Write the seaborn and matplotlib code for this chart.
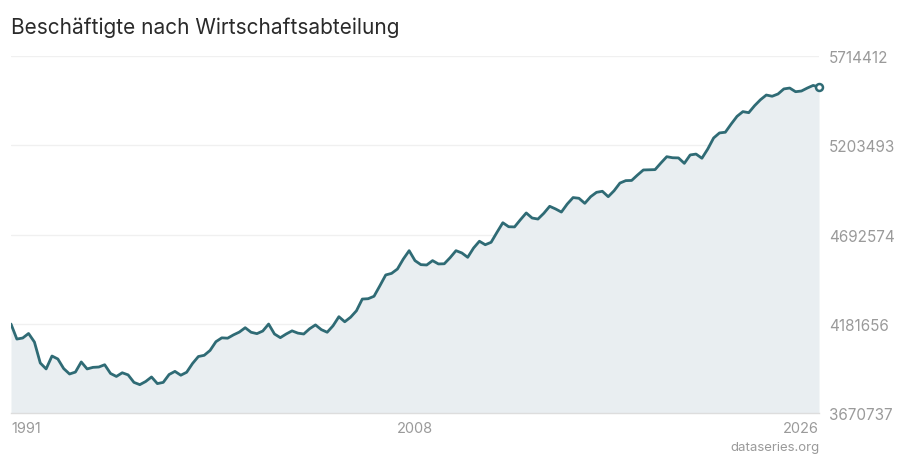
import numpy as np
import pandas as pd
import seaborn as sns
import matplotlib.pyplot as plt

TITLE = "Beschäftigte nach Wirtschaftsabteilung"
SOURCE = "dataseries.org"

# quarterly values, 1991 Q1 .. 2025 Q3
VALUES = [
    4180000, 4094000, 4100000, 4126000, 4077000, 3957000, 3923000, 3997000,
    3980000, 3925000, 3894000, 3905000, 3963000, 3923000, 3932000, 3934000,
    3947000, 3897000, 3880000, 3901000, 3889000, 3846000, 3833000, 3851000,
    3877000, 3839000, 3846000, 3891000, 3909000, 3887000, 3904000, 3954000,
    3994000, 4001000, 4029000, 4079000, 4101000, 4099000, 4118000, 4134000,
    4159000, 4133000, 4125000, 4140000, 4180000, 4123000, 4102000, 4123000,
    4141000, 4128000, 4123000, 4153000, 4175000, 4148000, 4133000, 4170000,
    4222000, 4193000, 4219000, 4256000, 4323000, 4325000, 4339000, 4399000,
    4461000, 4470000, 4495000, 4552000, 4600000, 4543000, 4520000, 4518000,
    4543000, 4524000, 4525000, 4560000, 4600000, 4587000, 4562000, 4615000,
    4654000, 4634000, 4648000, 4705000, 4760000, 4737000, 4736000, 4777000,
    4816000, 4787000, 4781000, 4814000, 4854000, 4839000, 4821000, 4867000,
    4904000, 4900000, 4871000, 4909000, 4934000, 4940000, 4909000, 4943000,
    4987000, 5001000, 5002000, 5033000, 5062000, 5063000, 5064000, 5102000,
    5138000, 5132000, 5131000, 5100000, 5148000, 5153000, 5129000, 5182000,
    5245000, 5274000, 5278000, 5325000, 5369000, 5396000, 5390000, 5430000,
    5464000, 5491000, 5484000, 5497000, 5526000, 5531000, 5510000, 5514000,
    5531000, 5546000, 5537000,
]
START_YEAR = 1991
Y_TICKS = [3670737, 4181656, 4692574, 5203493, 5714412]
X_TICK_LABELS = ["1991", "2008", "2026"]

LINE = "#2f6b75"
FILL = "#e9eef1"
GREY = "#9a9a9a"

df = pd.DataFrame({"value": VALUES})
df["year"] = START_YEAR + np.arange(len(df)) / 4

sns.set_theme(style="white")
plt.rcParams["font.family"] = ["Inter", "DejaVu Sans"]

fig = plt.figure(figsize=(9, 4.6), dpi=100)
ax = fig.add_axes([11 / 900, 1 - 414 / 460, 808 / 900, 357 / 460])

ax.fill_between(df["year"], df["value"], Y_TICKS[0], color=FILL, lw=0, zorder=1)
sns.lineplot(data=df, x="year", y="value", ax=ax, color=LINE, lw=2, zorder=3)
ax.plot(df["year"].iloc[-1], df["value"].iloc[-1], "o", ms=5, mfc="white",
        mec=LINE, mew=1.8, zorder=4, clip_on=False)

ax.set_xlim(df["year"].iloc[0], df["year"].iloc[-1])
ax.set_ylim(Y_TICKS[0], Y_TICKS[-1])

for v in Y_TICKS[1:]:
    ax.axhline(v, color="#f0f0f0", lw=1, zorder=0)

ax.yaxis.tick_right()
ax.set_yticks(Y_TICKS)
ax.set_yticklabels([str(v) for v in Y_TICKS])
ax.tick_params(axis="y", length=0, pad=7, labelsize=11, labelcolor=GREY)

mid = len(df) // 2
ax.set_xticks([df["year"].iloc[0], df["year"].iloc[mid], df["year"].iloc[-1]])
ax.set_xticklabels(X_TICK_LABELS)
ax.tick_params(axis="x", length=0, pad=6, labelsize=10.5, labelcolor=GREY)
for lab, ha in zip(ax.get_xticklabels(), ["left", "center", "right"]):
    lab.set_horizontalalignment(ha)

for s in ["top", "right", "left"]:
    ax.spines[s].set_visible(False)
ax.spines["bottom"].set_color("#dddddd")
ax.spines["bottom"].set_linewidth(1)
ax.set_xlabel("")
ax.set_ylabel("")

fig.text(11 / 900, 1 - 28 / 460, TITLE, fontsize=15, color="#2a2a2a", va="center", ha="left")
fig.text(820 / 900, 1 - 448 / 460, SOURCE, fontsize=9.5, color=GREY, va="center", ha="right")

fig.savefig("out.png", dpi=100)
